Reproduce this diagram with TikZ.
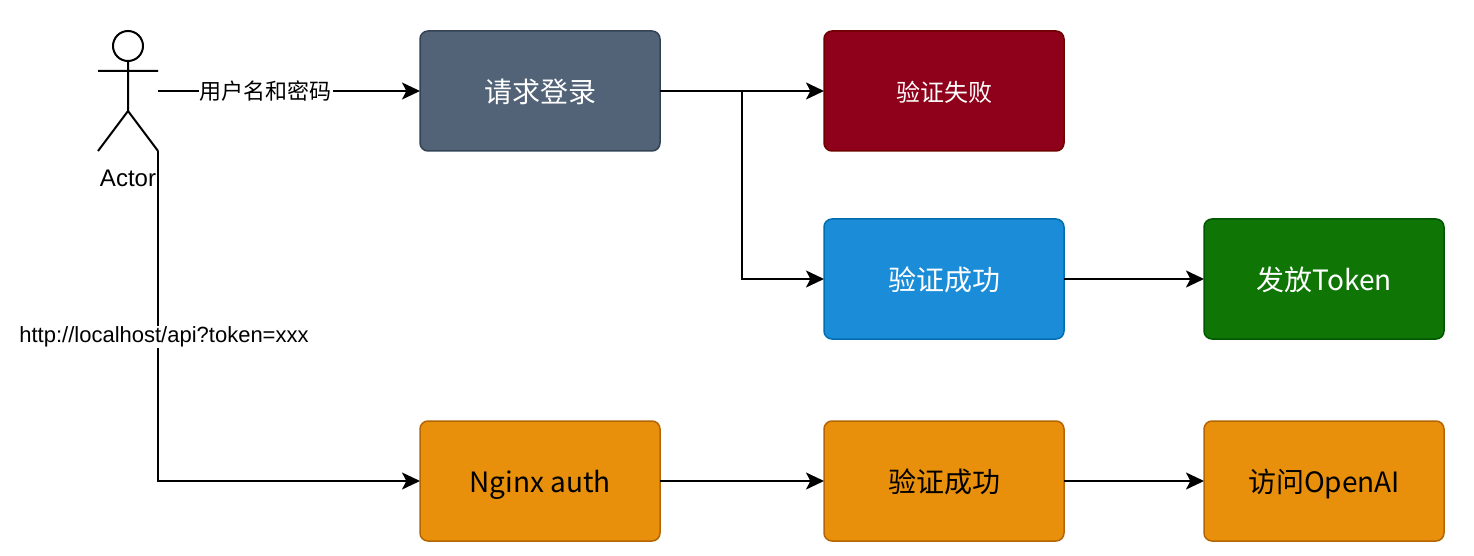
\documentclass[tikz,border=0pt]{standalone}
\usepackage{fontspec}
\setmainfont{Liberation Sans}
\newfontfamily\cjk{Noto Sans CJK SC}
\usetikzlibrary{positioning,arrows.meta}

\definecolor{slatefill}{HTML}{536377}
\definecolor{slateline}{HTML}{314354}
\definecolor{redfill}{HTML}{8F001A}
\definecolor{redline}{HTML}{6F0000}
\definecolor{bluefill}{HTML}{1B8CD8}
\definecolor{blueline}{HTML}{006EAF}
\definecolor{greenfill}{HTML}{0F7605}
\definecolor{greenline}{HTML}{005700}
\definecolor{orangefill}{HTML}{E8900C}
\definecolor{orangeline}{HTML}{B46504}

\begin{document}
\begin{tikzpicture}[x=0.5pt,y=-0.5pt]
        \tikzstyle{box}=[rectangle,rounded corners=4pt,draw,line width=0.75pt,minimum width=120pt,minimum height=60pt,outer sep=0pt,text depth=0pt,font=\cjk\fontsize{14}{16}\selectfont,text=white]
        \tikzstyle{slatebox}=[box,fill=slatefill,draw=slateline]
        \tikzstyle{redbox}=[box,fill=redfill,draw=redline,font=\cjk\fontsize{12}{14}\selectfont]
        \tikzstyle{bluebox}=[box,fill=bluefill,draw=blueline]
        \tikzstyle{greenbox}=[box,fill=greenfill,draw=greenline]
        \tikzstyle{orangebox}=[box,fill=orangefill,draw=orangeline,text=black]
        \tikzstyle{lbl}=[fill=white,inner sep=0.5pt,text=black]
        \tikzstyle{conn}=[line width=1pt,-{Stealth[length=9pt,width=8.5pt,inset=2.2pt]}]
        \useasboundingbox (0,0) rectangle (1474,556);

        \node[slatebox] (login) at (540,91) {请求登录};
        \node[redbox,right=82pt of login] (fail) {验证失败};
        \node[bluebox,below=34pt of fail] (ok) {验证成功};
        \node[greenbox,right=70pt of ok] (token) {发放Token};
        \node[orangebox] (nginx) at (540,481) {Nginx auth};
        \node[orangebox,right=82pt of nginx] (authok) {验证成功};
        \node[orangebox,right=70pt of authok] (openai) {访问OpenAI};

        % stick figure
        \node[circle,draw,line width=1pt,minimum size=15pt,inner sep=0pt,outer sep=0pt] (head) at (128,46) {};
        \coordinate (hip) at (128,111);
        \coordinate (lfoot) at (98,151);
        \coordinate (rfoot) at (158,151);
        \coordinate (larm) at (98,71);
        \coordinate (rarm) at (158,71);
        \coordinate (hand) at (158,91);
        \draw[line width=1pt] (head) -- (hip) (larm) -- (rarm) (lfoot) -- (hip) -- (rfoot);
        \node[font=\fontsize{12}{14}\selectfont,inner sep=0pt] (actor) at (128,178) {Actor};

        \coordinate (split) at (742,91);
        \draw[conn] (hand) -- node[lbl,pos=0.412,font=\cjk\fontsize{11}{13}\selectfont] (cred) {用户名和密码} (login);
        \draw[conn] (login) -- (fail);
        \draw[conn] (split) |- (ok);
        \draw[conn] (ok) -- (token);
        \draw[conn] (rfoot) |- node[lbl,pos=0.282,xshift=3pt,font=\fontsize{11}{13}\selectfont] (url) {http://localhost/api?token=xxx} (nginx);
        \draw[conn] (nginx) -- (authok);
        \draw[conn] (authok) -- (openai);
\end{tikzpicture}
\end{document}
